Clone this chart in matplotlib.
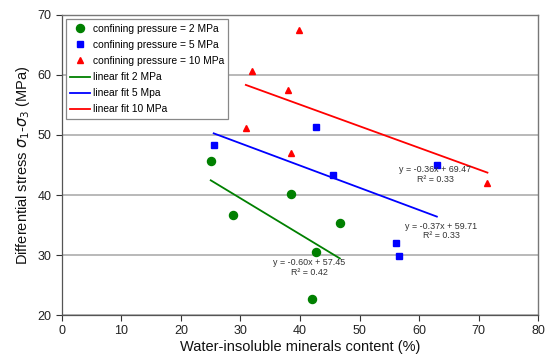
import matplotlib.pyplot as plt
import numpy as np

plt.rcParams['font.family'] = ['Liberation Sans', 'DejaVu Sans']
plt.rcParams['mathtext.fontset'] = 'dejavusans'

# Data
x_2 = [25.0, 28.7, 38.5, 42.0, 42.7, 46.7]
y_2 = [45.7, 36.6, 40.1, 22.7, 30.5, 35.4]
x_5 = [25.5, 42.7, 45.6, 56.1, 56.6, 63.0]
y_5 = [48.4, 51.4, 43.4, 32.0, 29.9, 45.0]
x_10 = [30.9, 31.9, 38.0, 38.5, 39.9, 71.5]
y_10 = [51.1, 60.7, 57.5, 47.0, 67.5, 42.0]

fits = {"2": (-0.60, 57.45, 0.42), "5": (-0.37, 59.71, 0.33), "10": (-0.36, 69.47, 0.33)}
fit_text_pos = {"2": (41.6, 27.9), "5": (63.7, 34.0), "10": (62.7, 43.4)}

fig = plt.figure(figsize=(5.5, 3.63), dpi=100)
ax = fig.add_axes([0.1127, 0.1322, 0.8655, 0.8265])

GREEN, BLUE, RED = "#008000", "#0000ff", "#ff0000"

ax.plot(x_2, y_2, 'o', color=GREEN, markersize=5.8, label="confining pressure = 2 MPa", zorder=4)
ax.plot(x_5, y_5, 's', color=BLUE, markersize=4.5, label="confining pressure = 5 MPa", zorder=4)
ax.plot(x_10, y_10, '^', color=RED, markersize=4.7, label="confining pressure = 10 MPa", zorder=4)

names = {"2": "linear fit 2 MPa", "5": "linear fit 5 Mpa", "10": "linear fit 10 MPa"}
for key, xs, col in (("2", x_2, GREEN), ("5", x_5, BLUE), ("10", x_10, RED)):
    m, b, r2 = fits[key]
    xx = np.array([min(xs), max(xs)])
    ax.plot(xx, m * xx + b, '-', color=col, linewidth=1.3, label=names[key], zorder=3)
    tx, ty = fit_text_pos[key]
    sign = "+" if b >= 0 else "-"
    ax.text(tx, ty, f"y = {m:.2f}x {sign} {abs(b):.2f}\nR² = {r2:.2f}",
            ha="center", va="center", fontsize=6.4, color="#333333", linespacing=1.1, zorder=5)

ax.set_xlim(0, 80)
ax.set_ylim(20, 70)
ax.set_xticks(np.arange(0, 81, 10))
ax.set_yticks(np.arange(20, 71, 10))
ax.tick_params(axis="both", direction="out", length=4, width=0.8, labelsize=9, colors="#333333",
               labelcolor="#222222")

ax.yaxis.grid(True, color="#a6a6a6", linewidth=1.1, zorder=0)
ax.set_axisbelow(True)
for s in ["left", "bottom"]:
    ax.spines[s].set_color("#555555")
    ax.spines[s].set_linewidth(0.9)
for s in ["top", "right"]:
    ax.spines[s].set_color("#777777")
    ax.spines[s].set_linewidth(1.0)

ax.set_xlabel("Water-insoluble minerals content (%)", fontsize=10.5, color="#111111", labelpad=2)
ax.set_ylabel(r"Differential stress $\sigma_1$-$\sigma_3$ (MPa)", fontsize=10.5, color="#111111", labelpad=4)

leg = ax.legend(loc="upper left", bbox_to_anchor=(0.008, 0.985), fontsize=7.4, frameon=True, fancybox=False,
                edgecolor="#888888", framealpha=1, borderpad=0.4, labelspacing=0.6, handlelength=2.0,
                handletextpad=0.2, borderaxespad=0)
leg.get_frame().set_linewidth(0.9)

fig.savefig("out.png", dpi=100)
